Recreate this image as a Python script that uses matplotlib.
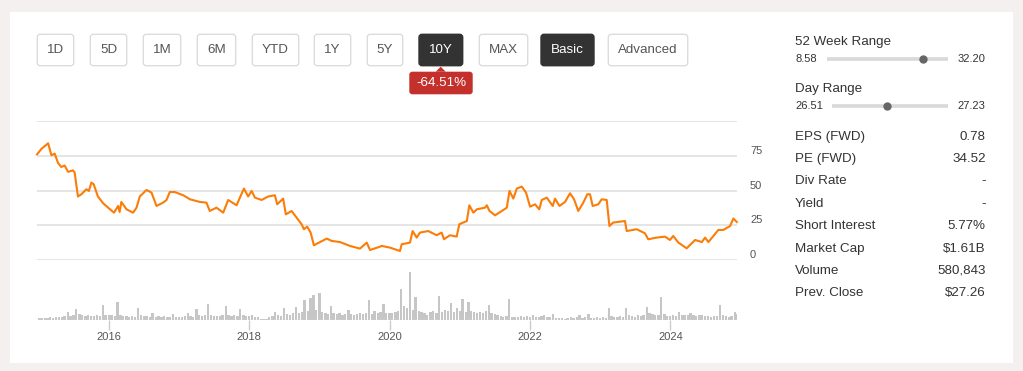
import matplotlib
matplotlib.use("Agg")
import matplotlib.pyplot as plt
from matplotlib.patches import FancyBboxPatch, Rectangle, Polygon
import pandas as pd

plt.rcParams['font.family'] = ['Liberation Sans', 'DejaVu Sans']

# price line (date, close)
price_dates = [
    '2014-12-23', '2015-01-15', '2015-02-19', '2015-03-08', '2015-03-25', '2015-04-11',
    '2015-04-28', '2015-05-16', '2015-06-03', '2015-06-28', '2015-07-07', '2015-07-24',
    '2015-08-11', '2015-09-06', '2015-09-19', '2015-10-02', '2015-10-14', '2015-11-05',
    '2015-12-02', '2015-12-28', '2016-01-28', '2016-02-18', '2016-02-26', '2016-03-06',
    '2016-04-02', '2016-05-06', '2016-05-24', '2016-06-10', '2016-07-15', '2016-08-10',
    '2016-09-05', '2016-10-09', '2016-10-27', '2016-11-13', '2016-12-09', '2017-01-22',
    '2017-02-26', '2017-04-18', '2017-05-23', '2017-06-09', '2017-07-14', '2017-08-18',
    '2017-09-13', '2017-10-27', '2017-11-13', '2017-12-04', '2017-12-26', '2018-01-13',
    '2018-01-30', '2018-03-06', '2018-04-09', '2018-05-14', '2018-05-26', '2018-06-26',
    '2018-07-10', '2018-08-09', '2018-09-04', '2018-09-30', '2018-10-12', '2018-10-29',
    '2018-11-16', '2018-12-03', '2019-01-04', '2019-02-08', '2019-03-06', '2019-04-18',
    '2019-06-09', '2019-07-31', '2019-09-04', '2019-09-21', '2019-11-12', '2019-11-21',
    '2020-01-03', '2020-02-24', '2020-03-04', '2020-04-16', '2020-04-30', '2020-05-21',
    '2020-06-07', '2020-07-20', '2020-09-02', '2020-09-28', '2020-10-10', '2020-11-10',
    '2020-12-15', '2020-12-29', '2021-02-06', '2021-02-19', '2021-03-12', '2021-03-30',
    '2021-05-12', '2021-05-21', '2021-06-04', '2021-07-03', '2021-08-07', '2021-09-02',
    '2021-09-16', '2021-10-06', '2021-10-24', '2021-11-19', '2021-12-11', '2022-01-01',
    '2022-01-27', '2022-02-18', '2022-03-03', '2022-03-29', '2022-04-29', '2022-05-11',
    '2022-06-03', '2022-07-02', '2022-07-28', '2022-08-18', '2022-09-09', '2022-10-05',
    '2022-10-26', '2022-11-09', '2022-11-23', '2022-12-22', '2023-01-09', '2023-02-04',
    '2023-02-18', '2023-03-10', '2023-05-10', '2023-05-19', '2023-07-10', '2023-08-22',
    '2023-09-08', '2023-10-22', '2023-12-04', '2023-12-30', '2024-01-16', '2024-02-12',
    '2024-03-26', '2024-05-09', '2024-06-13', '2024-06-30', '2024-07-17', '2024-09-07',
    '2024-10-03', '2024-11-07', '2024-11-24', '2024-12-12',
]
price_close = [
    76, 80, 84, 75.4, 76.6, 70,
    67, 68, 63.5, 64.6, 63, 45.8,
    47.4, 51, 49.8, 55.8, 54.6, 45.8,
    41, 37.8, 34.2, 39, 34.7, 41.9,
    36.6, 34.2, 37.8, 45.8, 50.5, 48.6,
    39, 41.4, 43.3, 49, 49, 46.7,
    43.8, 41.9, 41.4, 35.4, 37.8, 34.2,
    43.3, 39.5, 45, 51.5, 45.8, 49.8,
    45, 43.3, 45.8, 46.7, 40.2, 44.3,
    33, 35.4, 30.7, 25.9, 22.3, 24.2,
    19.9, 10.8, 13.1, 15.6, 13.9, 13.1,
    10.3, 8.4, 12.7, 7.4, 9.8, 10.3,
    9.1, 6.7, 11.5, 12.7, 21, 16.3,
    19.9, 21, 18, 19.9, 15.1, 18,
    17, 25.9, 28.2, 39.5, 34.2, 36.6,
    37.8, 39.5, 35.4, 32.3, 35.4, 37.8,
    49.8, 44.3, 51.5, 52.9, 48.6, 38.5,
    40.2, 36.6, 43.3, 45, 39, 44.3,
    39, 41.9, 48.1, 43.8, 35.4, 41.4,
    47.4, 47.4, 39, 40.2, 43.8, 43.3,
    24.6, 27.1, 28.2, 21, 22.3, 19.4,
    15.1, 16.3, 17, 14.6, 17.5, 12.7,
    8.6, 14.6, 13.1, 16.3, 13.1, 21.8,
    21.8, 24.6, 30, 27.5,
]

# volume, semi-monthly (1st / 15th), hundred-thousand shares
volume = [
    # 2015
    2, 2, 2.5, 2, 3, 2.5, 3, 3, 3.5, 4, 8.3, 4, 5, 11, 6, 5, 4, 5, 4, 4.5, 5, 4, 15, 5,
    # 2016
    5, 5.5, 4, 18.3, 5, 4, 4, 3.5, 4, 3.5, 12.3, 5, 4, 4.5, 3.5, 6.7, 3, 4, 3.5, 4, 3, 3.5, 5.7, 3,
    # 2017
    3, 3.5, 4, 6.7, 4, 3.5, 11, 5, 4, 5, 16, 5, 4, 4.5, 4, 5, 14.3, 5, 4.5, 5, 4, 11, 5, 4,
    # 2018
    4, 5, 3.5, 3, 1.5, 1, 1.5, 3, 4, 8.3, 5, 4, 11.7, 6, 5, 7, 12.7, 7, 8, 19.7, 9, 22.3, 25, 10,
    # 2019
    27.3, 8, 7, 6, 14, 7, 6, 6.7, 5, 6, 10, 6, 5.5, 6, 7, 6, 7, 19.7, 6, 9, 7, 8, 15.7, 7,
    # 2020
    7, 6.7, 8, 9, 31, 14.3, 12, 47.7, 10, 23, 9, 8, 7, 5, 8, 9, 7, 24, 8, 10, 9, 17.3, 8, 11.7,
    # 2021
    9, 21, 8, 18.3, 9, 8, 7, 8.3, 7, 9, 15, 7, 6, 5, 4, 3.5, 4, 21, 3.5, 3, 3.5, 4, 3, 4.5,
    # 2022
    3, 5, 3.5, 3, 4, 5, 3, 3, 5.7, 2.5, 2, 2.5, 1.5, 2, 3, 2.5, 3, 5, 2.5, 3, 5.7, 2.5, 2, 3,
    # 2023
    2.5, 3, 2.5, 11.7, 4, 3, 3.5, 4, 3.5, 11.7, 5, 4, 3.5, 5, 4, 5, 12.7, 7, 6, 5, 5.5, 23, 6, 4,
    # 2024
    4, 5, 4.5, 7.7, 5, 5.5, 5, 6.7, 5, 4.5, 5.5, 5, 4, 4.5, 3.5, 4, 4.5, 15, 5, 4, 3.5, 4.5, 7.7, 6,
]
volume_dates = pd.date_range('2015-01-01', periods=len(volume), freq='SMS')

year_ticks = [2016, 2018, 2020, 2022, 2024]
price_ticks = [0, 25, 50, 75, 100]
price_tick_labels = ['0', '25', '50', '75', '']

range_buttons = ['1D', '5D', '1M', '6M', 'YTD', '1Y', '5Y', '10Y', 'MAX']
mode_buttons = ['Basic', 'Advanced']
active_buttons = ['10Y', 'Basic']
change_label = '-64.51%'

week52 = (8.58, 32.20, 27.26)
day_range = (26.51, 27.23, 26.85)
stat_labels = ['EPS (FWD)', 'PE (FWD)', 'Div Rate', 'Yield', 'Short Interest',
               'Market Cap', 'Volume', 'Prev. Close']
stat_values = ['0.78', '34.52', '-', '-', '5.77%', '$1.61B', '580,843', '$27.26']

W, H = 1023, 371
fig = plt.figure(figsize=(W / 100, H / 100), dpi=100, facecolor='#f4f0ef')


def px_axes(x0, y0, x1, y1):
    return fig.add_axes([x0 / W, 1 - y1 / H, (x1 - x0) / W, (y1 - y0) / H])


# page layer in pixel coordinates
ui = fig.add_axes([0, 0, 1, 1], zorder=0)
ui.set_xlim(0, W)
ui.set_ylim(H, 0)
ui.axis('off')
ui.add_patch(Rectangle((10, 11.7), 1003.3, 351, facecolor='white', edgecolor='none'))

# buttons
btn_x = [(37.3, 73.7), (90.3, 126.7), (143.3, 180.7), (197.3, 235.7), (252.3, 298.7),
         (314.3, 350.7), (367.3, 402.7), (419, 462.7), (479.3, 527.7),
         (541, 594), (608.3, 687.7)]
for label, (x0, x1) in zip(range_buttons + mode_buttons, btn_x):
    active = label in active_buttons
    ui.add_patch(FancyBboxPatch((x0, 34.3), x1 - x0, 31.4,
                                boxstyle='round,pad=0,rounding_size=3',
                                facecolor='#333333' if active else 'white',
                                edgecolor='#333333' if active else '#dcdcdc', lw=1))
    ui.text((x0 + x1) / 2, 50, label, ha='center', va='center', fontsize=9.6,
            color='white' if active else '#555555')

# change badge under 10Y
ui.add_patch(Polygon([(435.7, 71.7), (440.7, 66.7), (445.7, 71.7)],
                     closed=True, facecolor='#c4302b', edgecolor='none'))
ui.add_patch(FancyBboxPatch((409.3, 71.7), 63.4, 22.6,
                            boxstyle='round,pad=0,rounding_size=3',
                            facecolor='#c4302b', edgecolor='none'))
ui.text(441, 83, change_label, ha='center', va='center', fontsize=9.6, color='white')

# right panel
txt = '#333333'


def slider(y_title, y_bar, title, lo, hi, cur, bar_x0):
    ui.text(795, y_title, title, ha='left', va='center', fontsize=9.6, color=txt)
    ui.text(795, y_bar, f'{lo:.2f}', ha='left', va='center', fontsize=8, color=txt)
    ui.text(985.7, y_bar, f'{hi:.2f}', ha='right', va='center', fontsize=8, color=txt)
    bar_x1 = 948.3
    ui.plot([bar_x0, bar_x1], [y_bar, y_bar], color='#d9d9d9', lw=2.6,
            solid_capstyle='butt')
    pos = bar_x0 + (cur - lo) / (hi - lo) * (bar_x1 - bar_x0)
    ui.plot([pos], [y_bar], 'o', color='#666666', ms=6, mec='none')


slider(41.7, 59, '52 Week Range', *week52, bar_x0=826.7)
slider(89, 105.7, 'Day Range', *day_range, bar_x0=831.7)

for i, (lab, val) in enumerate(zip(stat_labels, stat_values)):
    y = 136.7 + i * 22.37
    ui.text(795, y, lab, ha='left', va='center', fontsize=9.6, color=txt)
    ui.text(985.7, y, val, ha='right', va='center', fontsize=9.6, color=txt)

x_start, x_end = pd.Timestamp('2014-12-23'), pd.Timestamp('2024-12-13')

# price chart
ax = px_axes(37, 121, 737, 260.3)
ax.set_zorder(2)
ax.patch.set_alpha(0)
ax.plot(pd.to_datetime(price_dates), price_close, color='#fb7d07', lw=1.5,
        solid_joinstyle='round', clip_on=False, zorder=3)
ax.set_xlim(x_start, x_end)
ax.set_ylim(0, 100)
ax.set_yticks(price_ticks)
ax.set_yticklabels(price_tick_labels)
ax.grid(axis='y', color='#e3e3e3', lw=1.3)
ax.yaxis.tick_right()
ax.tick_params(axis='y', length=0, pad=9.4, labelsize=8, labelcolor='#555555')
for t in ax.get_yticklabels():
    t.set_va('bottom')
ax.tick_params(axis='x', length=0, labelbottom=False)
for s in ax.spines.values():
    s.set_visible(False)

# volume chart
axv = px_axes(37, 270, 737, 320)
axv.set_zorder(2)
axv.patch.set_alpha(0)
axv.bar(volume_dates, volume, width=12, color='#c6c6c6', align='center')
axv.axhline(0, color='#d8d8d8', lw=1)
axv.set_xlim(x_start, x_end)
axv.set_ylim(0, 50)
axv.set_yticks([])
axv.set_xticks([pd.Timestamp(f'{y}-01-01') for y in year_ticks])
axv.set_xticklabels([str(y) for y in year_ticks])
axv.tick_params(axis='x', length=7, width=1, color='#cccccc', pad=1.5,
                labelsize=8, labelcolor='#555555')
for s in axv.spines.values():
    s.set_visible(False)

fig.savefig('out.png', dpi=100, facecolor=fig.get_facecolor())
